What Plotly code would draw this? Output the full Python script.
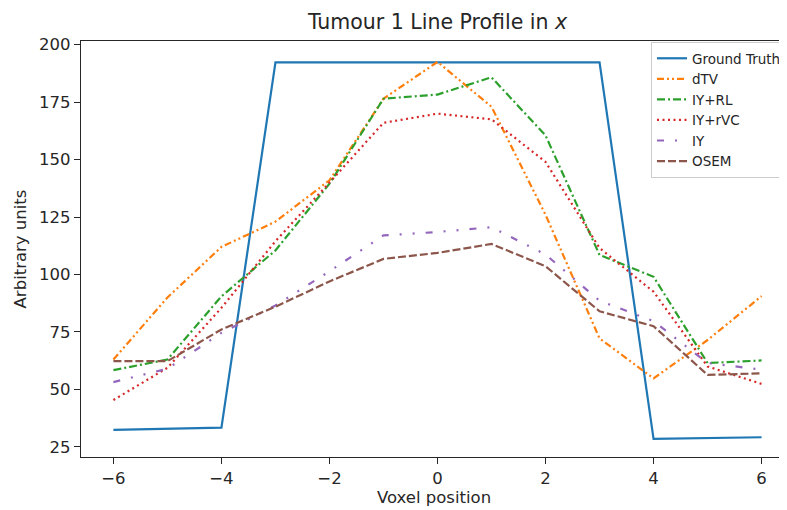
import plotly.graph_objects as go

x_pos = [-6, -5, -4, -3, -2, -1, 0, 1, 2, 3, 4, 5, 6]

ground_truth = [32.4, 32.9, 33.4, 192.3, 192.3, 192.3, 192.3, 192.3, 192.3, 192.3, 28.5, 28.8, 29.2]
dtv = [63.0, 90.0, 112.0, 123.0, 141.0, 176.5, 192.5, 173.0, 126.0, 72.2, 54.8, 71.5, 90.6]
iy_rl = [58.4, 63.0, 90.5, 110.5, 139.5, 176.5, 178.3, 185.8, 160.5, 108.5, 99.0, 61.5, 62.6]
iy_rvc = [45.4, 59.4, 85.5, 114.5, 140.0, 166.0, 170.0, 167.5, 149.0, 111.5, 92.5, 60.0, 52.4]
iy = [53.2, 59.0, 74.6, 86.5, 101.4, 117.0, 118.5, 120.6, 108.7, 88.6, 79.7, 61.5, 58.6]
osem = [62.3, 62.3, 76.1, 86.0, 97.0, 106.8, 109.4, 113.3, 103.6, 84.0, 77.5, 56.3, 57.0]

x_ticks = [-6, -4, -2, 0, 2, 4, 6]
y_ticks = [25, 50, 75, 100, 125, 150, 175, 200]

series = [
    ("Ground Truth", ground_truth, "#1f77b4", "solid", 2.2),
    ("dTV", dtv, "#ff7f0e", "7px,3px,2px,3px,2px,3px", 2.2),
    ("IY+RL", iy_rl, "#2ca02c", "8px,3px,2px,3px", 2.2),
    ("IY+rVC", iy_rvc, "#d62728", "2px,3.5px", 2.2),
    ("IY", iy, "#9467bd", "7px,11px,2px,11px,2px,11px", 2.2),
    ("OSEM", osem, "#8c564b", "8px,3px", 2.2),
]

FONT = "DejaVu Sans"
# page body has an 8px default margin, so the figure is sized/offset to compensate
W, H = 779, 502
fig = go.Figure()
for i, (name, vals, color, dash, w) in enumerate(series):
    fig.add_trace(go.Scatter(
        x=x_pos, y=vals, mode="lines", name=name,
        legendgroup=f"g{i}",
        line=dict(color=color, dash=dash, width=w),
    ))

fig.update_layout(
    width=W, height=H,
    margin=dict(l=73, r=0, t=33, b=53, autoexpand=False),
    paper_bgcolor="white", plot_bgcolor="white",
    font=dict(family=FONT, size=16.5, color="#262626"),
    title=dict(text="Tumour 1 Line Profile in <i>x</i>", x=0.505, xanchor="center", xref="paper",
               y=1 - 14 / H, yref="container", yanchor="middle",
               font=dict(family=FONT, size=20.5, color="#262626"), automargin=False),
    showlegend=True,
    legend=dict(x=(651 - 81) / 706, y=(457 - 42) / 416, xanchor="left", yanchor="top",
                bgcolor="rgba(255,255,255,0.8)", bordercolor="#cccccc", borderwidth=1,
                font=dict(family=FONT, size=13.5, color="#262626"),
                tracegroupgap=1.5, traceorder="normal", itemwidth=30),
    xaxis=dict(range=[-6.6, 6.6 - 7 / 54], tickvals=x_ticks, showgrid=False, zeroline=False,
               automargin=False,
               showline=True, linecolor="#262626", linewidth=1.3, mirror=True,
               ticks="outside", ticklen=6, tickwidth=1.3, tickcolor="#262626",
               tickfont=dict(family=FONT, size=16.5, color="#262626"),
               title=dict(text="Voxel position", standoff=3,
                          font=dict(family=FONT, size=16.5, color="#262626"))),
    yaxis=dict(range=[20.6, 201.6], tickvals=y_ticks, showgrid=False, zeroline=False,
               automargin=False,
               showline=True, linecolor="#262626", linewidth=1.3,
               ticks="outside", ticklen=6, tickwidth=1.3, tickcolor="#262626",
               tickfont=dict(family=FONT, size=16.5, color="#262626"),
               title=dict(text="Arbitrary units", standoff=8,
                          font=dict(family=FONT, size=16.5, color="#262626"))),
)

fig.write_html("out.html")
